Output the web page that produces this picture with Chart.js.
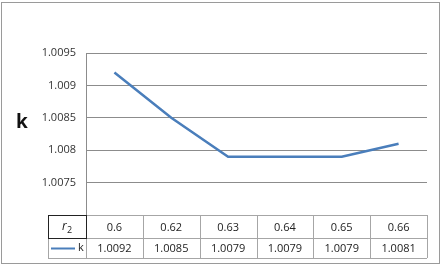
<!DOCTYPE html>
<html>
<head>
<meta charset="utf-8">
<script src="https://cdn.jsdelivr.net/npm/chart.js@4.4.0/dist/chart.umd.min.js"></script>
<style>
  html, body { margin: 0; padding: 0; background: #fff; }
  #wrap { width: 442px; height: 266px; }
</style>
</head>
<body>
<div id="wrap"><canvas id="kChart" width="442" height="266"></canvas></div>
<script>
// data
const r2Values = ['0.6', '0.62', '0.63', '0.64', '0.65', '0.66'];
const kValues = [1.0092, 1.0085, 1.0079, 1.0079, 1.0079, 1.0081];
const kLabels = ['1.0092', '1.0085', '1.0079', '1.0079', '1.0079', '1.0081'];
const yTicks = [1.007, 1.0075, 1.008, 1.0085, 1.009, 1.0095];

const lineBlue = '#4a7ebb';
const gridGrey = '#8c8c8c';
const tableGrey = '#a6a6a6';
const font = "'Open Sans', 'Liberation Sans', sans-serif";

// draws frame, "k" axis title and the data table under the plot
const tablePlugin = {
  id: 'dataTable',
  afterDraw(chart) {
    const ctx = chart.ctx;
    const x = chart.scales.x;
    const area = chart.chartArea;
    const top = area.bottom;
    const rowH = [23, 20];
    const tableLeft = 48;
    const colEdges = [area.left];
    for (let i = 0; i < r2Values.length; i++) {
      colEdges.push(i === r2Values.length - 1 ? area.right
        : (x.getPixelForValue(i) + x.getPixelForValue(i + 1)) / 2);
    }
    const bottom = top + rowH[0] + rowH[1];

    ctx.save();
    // outer frame
    ctx.strokeStyle = '#9a9a9a';
    ctx.lineWidth = 1;
    ctx.strokeRect(1.5, 2.5, 438, 261);

    // table grid
    ctx.strokeStyle = tableGrey;
    ctx.beginPath();
    ctx.moveTo(tableLeft, top + 0.5); ctx.lineTo(area.right, top + 0.5);
    ctx.moveTo(tableLeft, top + rowH[0] + 0.5); ctx.lineTo(area.right, top + rowH[0] + 0.5);
    ctx.moveTo(tableLeft, bottom + 0.5); ctx.lineTo(area.right, bottom + 0.5);
    ctx.moveTo(tableLeft + 0.5, top); ctx.lineTo(tableLeft + 0.5, bottom);
    colEdges.forEach(e => {
      const px = Math.round(e) + 0.5;
      ctx.moveTo(px, top); ctx.lineTo(px, bottom);
    });
    ctx.stroke();

    // dark box around r2 header cell
    ctx.strokeStyle = '#222';
    ctx.strokeRect(tableLeft + 0.5, top + 0.5, area.left - tableLeft, rowH[0]);

    // cell text
    ctx.fillStyle = '#222';
    ctx.font = '11px ' + font;
    ctx.textAlign = 'center';
    ctx.textBaseline = 'middle';
    for (let i = 0; i < r2Values.length; i++) {
      const cx = x.getPixelForValue(i);
      ctx.fillText(r2Values[i], cx, top + rowH[0] / 2 + 1);
      ctx.fillText(kLabels[i], cx, top + rowH[0] + rowH[1] / 2 + 1);
    }

    // r2 header
    ctx.font = 'italic 12px ' + font;
    ctx.textAlign = 'left';
    ctx.fillText('r', 62, top + rowH[0] / 2);
    ctx.font = '9px ' + font;
    ctx.fillText('2', 67, top + rowH[0] / 2 + 4);

    // legend key in second row
    ctx.strokeStyle = lineBlue;
    ctx.lineWidth = 2;
    ctx.beginPath();
    ctx.moveTo(51, top + rowH[0] + 10.5);
    ctx.lineTo(75, top + rowH[0] + 10.5);
    ctx.stroke();
    ctx.font = '11px ' + font;
    ctx.fillStyle = '#222';
    ctx.fillText('k', 78, top + rowH[0] + 10);

    // axis title
    ctx.font = 'bold 19px ' + font;
    ctx.textAlign = 'center';
    ctx.fillStyle = '#111';
    ctx.fillText('k', 22, 123);
    ctx.restore();
  }
};

new Chart(document.getElementById('kChart'), {
  type: 'line',
  data: {
    labels: r2Values,
    datasets: [{
      label: 'k',
      data: kValues,
      borderColor: lineBlue,
      borderWidth: 2.5,
      pointRadius: 0,
      tension: 0,
      fill: false
    }]
  },
  options: {
    responsive: false,
    animation: false,
    events: [],
    layout: { padding: { left: 0, right: 15, top: 53, bottom: 51 } },
    plugins: {
      legend: { display: false },
      tooltip: { enabled: false }
    },
    scales: {
      x: {
        display: false,
        offset: true
      },
      y: {
        min: yTicks[0],
        max: yTicks[yTicks.length - 1],
        afterBuildTicks: s => { s.ticks = yTicks.map(v => ({ value: v })); },
        afterFit: s => { s.width = 86; },
        border: { display: true, color: gridGrey, width: 1 },
        grid: {
          color: ctx => ctx.tick && ctx.tick.value === yTicks[0] ? 'rgba(0,0,0,0)' : gridGrey,
          drawTicks: false
        },
        ticks: {
          padding: 10,
          color: '#333',
          font: { family: font, size: 11 },
          callback: v => v === yTicks[0] ? '' : String(+v.toFixed(4))
        }
      }
    }
  },
  plugins: [tablePlugin]
});
</script>
</body>
</html>
